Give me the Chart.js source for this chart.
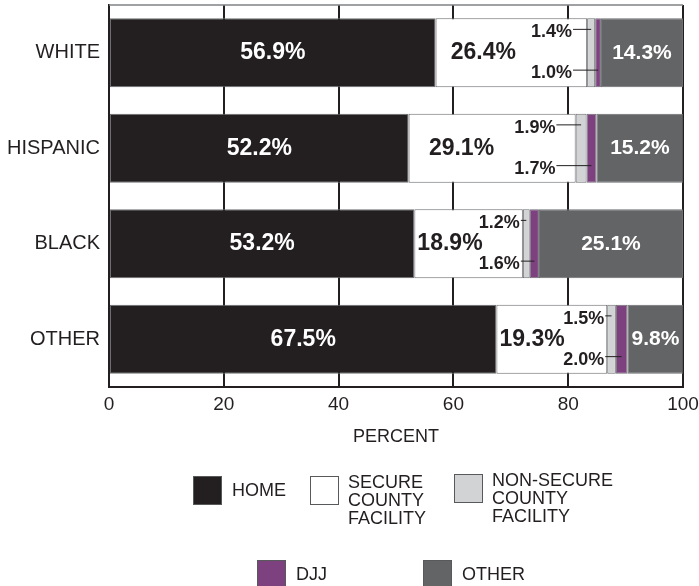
<!DOCTYPE html>
<html>
<head>
<meta charset="utf-8">
<script src="https://cdn.jsdelivr.net/npm/chart.js@4.4.1/dist/chart.umd.min.js"></script>
<style>
  html, body { margin: 0; padding: 0; background: #fff; }
  #wrap { width: 699px; height: 586px; }
</style>
</head>
<body>
<div id="wrap"><canvas id="chart" width="699" height="586"></canvas></div>
<script>
const categories = ['WHITE', 'HISPANIC', 'BLACK', 'OTHER'];
const home = [56.9, 52.2, 53.2, 67.5];
const secureCounty = [26.4, 29.1, 18.9, 19.3];
const nonSecureCounty = [1.4, 1.9, 1.2, 1.5];
const djj = [1.0, 1.7, 1.6, 2.0];
const other = [14.3, 15.2, 25.1, 9.8];
const xTicks = [0, 20, 40, 60, 80, 100];
const xTitle = 'PERCENT';

const ink = '#231f20';
const face = '"Liberation Sans", Arial, Helvetica, sans-serif';
const fmt = v => v.toFixed(1) + '%';

const series = [
  { label: 'HOME', lines: ['HOME'], data: home, color: '#231f20' },
  { label: 'SECURE COUNTY FACILITY', lines: ['SECURE', 'COUNTY', 'FACILITY'], data: secureCounty, color: '#ffffff' },
  { label: 'NON-SECURE COUNTY FACILITY', lines: ['NON-SECURE', 'COUNTY', 'FACILITY'], data: nonSecureCounty, color: '#d1d3d4' },
  { label: 'DJJ', lines: ['DJJ'], data: djj, color: '#7d4180' },
  { label: 'OTHER', lines: ['OTHER'], data: other, color: '#636466' },
];

// legend swatch spots (two rows under the axis)
const legendSpots = [
  { x: 193, y: 476 }, { x: 310, y: 476 }, { x: 454, y: 474 },
  { x: 257, y: 560 }, { x: 423, y: 560 },
];

const topBorder = {
  id: 'topBorder',
  beforeDatasetsDraw(chart) {
    const { ctx, chartArea: a } = chart;
    ctx.save();
    ctx.strokeStyle = '#808285';
    ctx.lineWidth = 1.5;
    ctx.beginPath();
    ctx.moveTo(a.left, a.top);
    ctx.lineTo(a.right, a.top);
    ctx.stroke();
    ctx.restore();
  }
};

const barLabels = {
  id: 'barLabels',
  afterDatasetsDraw(chart) {
    const ctx = chart.ctx;
    const metas = chart.data.datasets.map((d, i) => chart.getDatasetMeta(i).data);
    ctx.save();
    ctx.textBaseline = 'middle';
    categories.forEach((c, i) => {
      const [hm, sc, ns, dj, ot] = metas.map(m => m[i]);
      const top = hm.y - hm.height / 2;
      const bottom = hm.y + hm.height / 2;

      // home share, white on black
      ctx.font = `bold 23px ${face}`;
      ctx.textAlign = 'center';
      ctx.fillStyle = '#ffffff';
      ctx.fillText(fmt(home[i]), (hm.base + hm.x) / 2, hm.y);

      // other share, white on grey
      ctx.font = `bold 21px ${face}`;
      ctx.fillText(fmt(other[i]), (ot.base + ot.x) / 2, ot.y);

      // secure facility share + the two small call-outs share the white segment
      ctx.font = `bold 23px ${face}`;
      const bigText = fmt(secureCounty[i]);
      const bigW = ctx.measureText(bigText).width;
      ctx.font = `bold 18px ${face}`;
      const upText = fmt(nonSecureCounty[i]);
      const downText = fmt(djj[i]);
      const smallW = Math.max(ctx.measureText(upText).width, ctx.measureText(downText).width);
      const spare = (ns.base - sc.base) - bigW - smallW;
      const gap = Math.max(3, spare / 3);

      ctx.fillStyle = ink;
      ctx.font = `bold 23px ${face}`;
      ctx.textAlign = 'left';
      ctx.fillText(bigText, sc.base + gap, sc.y);

      const right = ns.base - gap;
      const upY = top + 14;
      const downY = bottom - 14;
      ctx.font = `bold 18px ${face}`;
      ctx.textAlign = 'right';
      ctx.fillText(upText, right, upY);
      ctx.fillText(downText, right, downY);

      ctx.strokeStyle = ink;
      ctx.lineWidth = 1;
      ctx.beginPath();
      ctx.moveTo(right + 1, upY - 3);
      ctx.lineTo((ns.base + ns.x) / 2, upY - 3);
      ctx.moveTo(right + 1, downY - 3);
      ctx.lineTo((dj.base + dj.x) / 2, downY - 3);
      ctx.stroke();
    });
    ctx.restore();
  }
};

const swatchLegend = {
  id: 'swatchLegend',
  afterDraw(chart) {
    const ctx = chart.ctx;
    ctx.save();
    chart.data.datasets.forEach((ds, i) => {
      const s = legendSpots[i];
      ctx.fillStyle = ds.backgroundColor;
      ctx.fillRect(s.x, s.y, 29, 29);
      ctx.strokeStyle = '#58595b';
      ctx.lineWidth = 1;
      ctx.strokeRect(s.x + 0.5, s.y + 0.5, 28, 28);

      const lines = series[i].lines;
      ctx.fillStyle = ink;
      ctx.font = `18px ${face}`;
      ctx.textAlign = 'left';
      ctx.textBaseline = 'middle';
      if (lines.length === 1) {
        ctx.fillText(lines[0], s.x + 39, s.y + 15);
      } else {
        lines.forEach((t, k) => ctx.fillText(t, s.x + 38, s.y + 7 + k * 18));
      }
    });
    ctx.restore();
  }
};

new Chart(document.getElementById('chart'), {
  type: 'bar',
  data: {
    labels: categories,
    datasets: series.map(s => ({
      label: s.label,
      data: s.data,
      backgroundColor: s.color,
      borderColor: '#6d6e71',
      borderWidth: 1,
      borderSkipped: false,
      categoryPercentage: 1,
      barPercentage: 0.72,
    }))
  },
  options: {
    indexAxis: 'y',
    responsive: false,
    animation: false,
    layout: { padding: { top: 5, right: 16, left: 0, bottom: 0 } },
    plugins: {
      legend: { display: false },
      tooltip: { enabled: false },
    },
    scales: {
      x: {
        stacked: true,
        min: 0,
        max: 100,
        afterBuildTicks(scale) {
          scale.ticks = xTicks.map(v => ({ value: v }));
        },
        afterFit(scale) {
          scale.height = 199;
          scale.paddingLeft = 0;
          scale.paddingRight = 0;
        },
        grid: { color: ink, lineWidth: 2, drawTicks: false },
        border: { color: ink, width: 2 },
        ticks: { color: ink, padding: 6, font: { family: face, size: 19 } },
        title: {
          display: true,
          text: xTitle,
          color: ink,
          font: { family: face, size: 18 },
          padding: { top: 0, bottom: 138 },
        },
      },
      y: {
        stacked: true,
        afterFit(scale) {
          scale.width = 109;
          scale.paddingTop = 0;
          scale.paddingBottom = 0;
        },
        grid: { display: false, drawTicks: false },
        border: { color: ink, width: 2 },
        ticks: { color: ink, padding: 9, font: { family: face, size: 20 } },
      },
    },
  },
  plugins: [topBorder, barLabels, swatchLegend],
});
</script>
</body>
</html>
